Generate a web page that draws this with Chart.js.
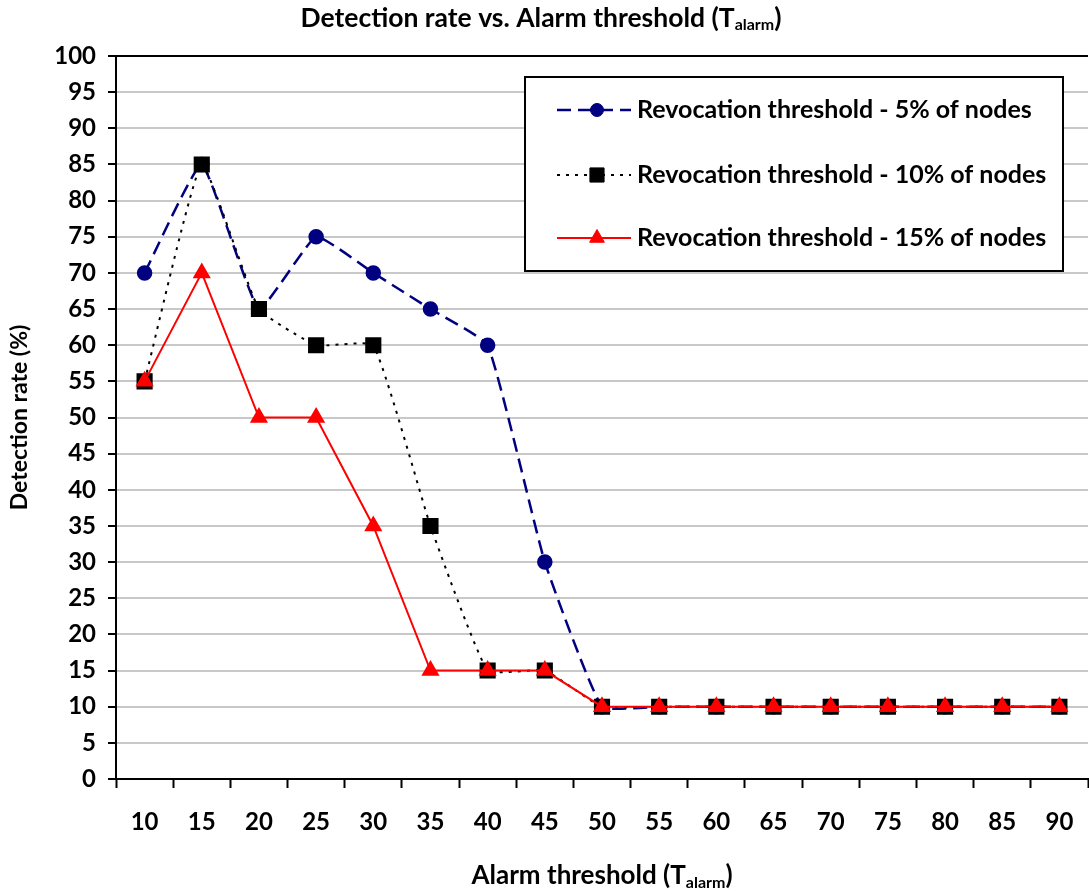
<!DOCTYPE html>
<html>
<head>
<meta charset="utf-8">
<script src="https://cdn.jsdelivr.net/npm/chart.js@4/dist/chart.umd.min.js"></script>
<style>
html,body{margin:0;padding:0;background:#fff;overflow:hidden;}
#wrap{position:relative;width:1100px;height:895px;}
</style>
</head>
<body>
<div id="wrap"><canvas id="c"></canvas></div>
<script>
const categories = ['10','15','20','25','30','35','40','45','50','55','60','65','70','75','80','85','90'];
const revoc5  = [70, 85, 65, 75, 70, 65, 60, 30, 10, 10, 10, 10, 10, 10, 10, 10, 10];
const revoc10 = [55, 85, 65, 60, 60, 35, 15, 15, 10, 10, 10, 10, 10, 10, 10, 10, 10];
const revoc15 = [55, 70, 50, 50, 35, 15, 15, 15, 10, 10, 10, 10, 10, 10, 10, 10, 10];
const seriesNames = ['Revocation threshold - 5% of nodes','Revocation threshold - 10% of nodes','Revocation threshold - 15% of nodes'];
const yTicks = [0,5,10,15,20,25,30,35,40,45,50,55,60,65,70,75,80,85,90,95,100];

const FONT = 'Lato';

function drawSub(ctx, parts, cx, cy, size) {
  const mainF = 'bold ' + size + 'px ' + FONT;
  const subF = 'bold ' + Math.round(size*0.62) + 'px ' + FONT;
  let total = 0;
  parts.forEach(p => { ctx.font = p[1] ? subF : mainF; total += ctx.measureText(p[0]).width; });
  let x = cx - total/2;
  ctx.textBaseline = 'middle';
  ctx.textAlign = 'left';
  ctx.fillStyle = '#000';
  parts.forEach(p => {
    ctx.font = p[1] ? subF : mainF;
    ctx.fillText(p[0], x, p[1] ? cy + size*0.25 : cy);
    x += ctx.measureText(p[0]).width;
  });
}

const extras = {
  id: 'extras',
  afterDraw(chart) {
    const ctx = chart.ctx;
    const ca = chart.chartArea;
    ctx.save();
    ctx.strokeStyle = '#000';
    ctx.lineWidth = 2;
    ctx.beginPath(); ctx.moveTo(ca.left, ca.top); ctx.lineTo(ca.right, ca.top); ctx.stroke();
    drawSub(ctx, [['Detection rate vs. Alarm threshold (T',false],['alarm',true],[')',false]], 541, 18, 26.5);
    drawSub(ctx, [['Alarm threshold (T',false],['alarm',true],[')',false]], (ca.left+ca.right)/2, 876, 26);
    const bx = 525, by = 77, bw = 538, bh = 194;
    ctx.fillStyle = '#fff';
    ctx.fillRect(bx, by, bw, bh);
    ctx.strokeStyle = '#000';
    ctx.lineWidth = 2;
    ctx.strokeRect(bx, by, bw, bh);
    const ys = [110, 175, 238];
    chart.data.datasets.forEach((ds, i) => {
      const y = ys[i];
      ctx.save();
      ctx.strokeStyle = ds.borderColor;
      ctx.lineWidth = ds.borderWidth;
      ctx.setLineDash(ds.borderDash || []);
      ctx.beginPath(); ctx.moveTo(557, y); ctx.lineTo(631, y); ctx.stroke();
      ctx.restore();
      ctx.save();
      ctx.fillStyle = ds.pointBackgroundColor;
      ctx.strokeStyle = ds.pointBorderColor;
      ctx.lineWidth = 1;
      Chart.helpers.drawPoint(ctx, {pointStyle: ds.pointStyle, rotation: 0, borderWidth: 1, radius: ds.pointRadius}, 597, y);
      ctx.restore();
      ctx.fillStyle = '#000';
      ctx.font = 'bold 25px ' + FONT;
      ctx.textBaseline = 'middle';
      ctx.textAlign = 'left';
      ctx.fillText(seriesNames[i], 637, y);
    });
    ctx.restore();
  }
};

new Chart(document.getElementById('c'), {
  type: 'line',
  data: {
    labels: categories,
    datasets: [
      {label: seriesNames[0], data: revoc5, borderColor: '#000080', borderWidth: 2.5, borderDash: [14,7], tension: 0.12,
       pointStyle: 'circle', pointRadius: 6.5, pointBackgroundColor: '#000080', pointBorderColor: '#000080', order: 3},
      {label: seriesNames[1], data: revoc10, borderColor: '#000000', borderWidth: 2, borderDash: [3,6], tension: 0.12,
       pointStyle: 'rect', pointRadius: 10, pointBackgroundColor: '#000000', pointBorderColor: '#000000', order: 2},
      {label: seriesNames[2], data: revoc15, borderColor: '#ff0000', borderWidth: 2, tension: 0,
       pointStyle: 'triangle', pointRadius: 8.5, pointBackgroundColor: '#ff0000', pointBorderColor: '#ff0000', order: 1}
    ]
  },
  options: {
    responsive: true,
    maintainAspectRatio: false,
    animation: false,
    layout: {padding: {top: 56, right: 6, bottom: 0, left: 0}},
    plugins: {legend: {display: false}, title: {display: false}, tooltip: {enabled: false}},
    scales: {
      x: {
        type: 'category',
        offset: true,
        afterFit(s) { s.height = 116; },
        grid: {offset: true, drawOnChartArea: false, drawTicks: true, tickLength: 9, tickColor: '#000', tickWidth: 2},
        border: {color: '#000', width: 2},
        ticks: {color: '#000', font: {family: FONT, weight: 'bold', size: 24}, padding: 20, maxRotation: 0, autoSkip: false}
      },
      y: {
        min: 0, max: 100,
        afterFit(s) { s.width = 116; },
        afterBuildTicks(s) { s.ticks = yTicks.map(v => ({value: v})); },
        grid: {color: '#c8c8c8', lineWidth: 2, tickLength: 8, tickColor: '#000', tickWidth: 2},
        border: {color: '#000', width: 2},
        ticks: {color: '#000', font: {family: FONT, weight: 'bold', size: 24}, padding: 12},
        title: {display: true, text: 'Detection rate (%)', color: '#000', font: {family: FONT, weight: 'bold', size: 23}, padding: {top: 6, bottom: 0}}
      }
    }
  },
  plugins: [extras]
});
</script>
</body>
</html>
